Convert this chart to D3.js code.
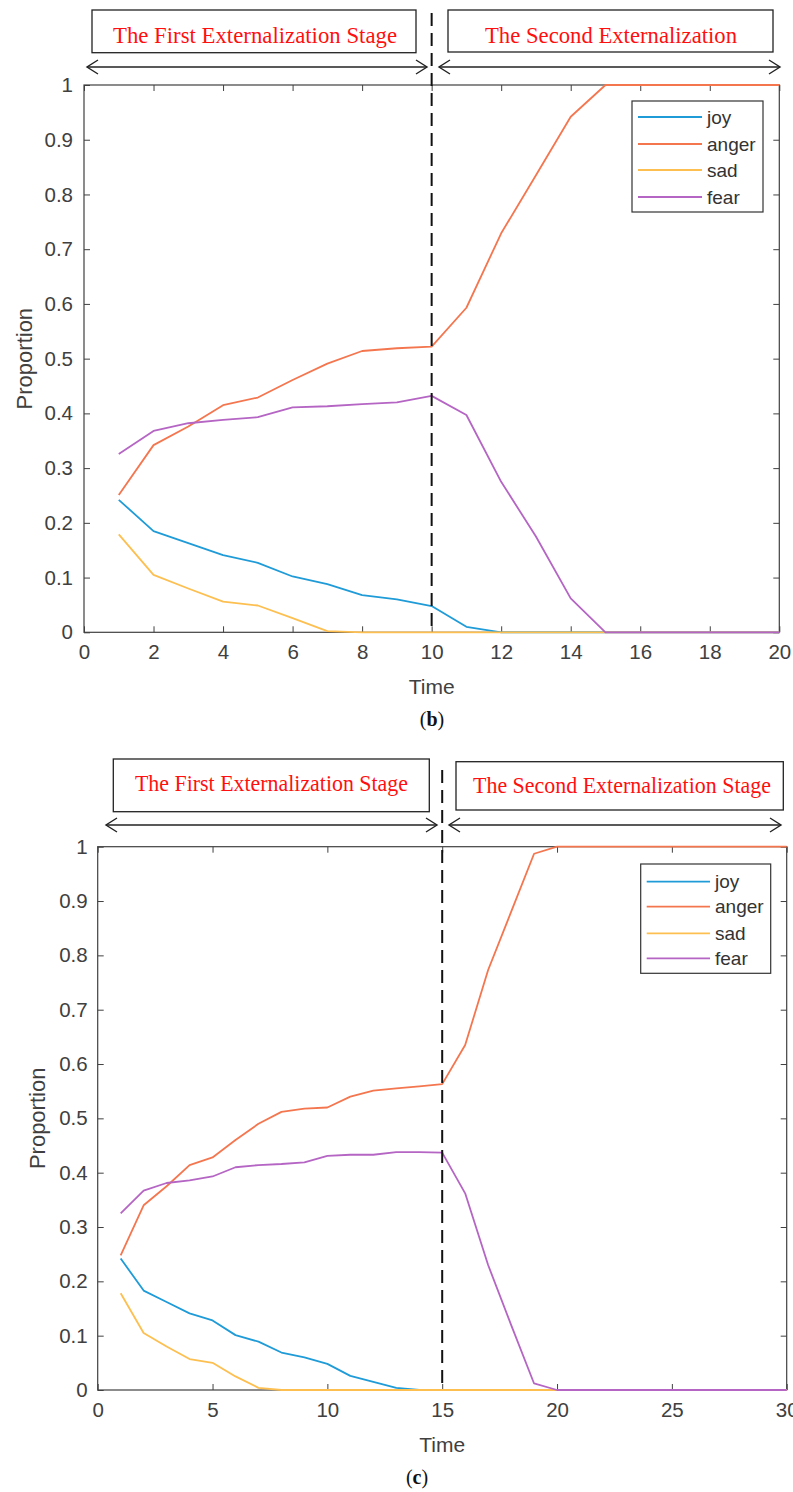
<!DOCTYPE html>
<html>
<head>
<meta charset="utf-8">
<script src="https://cdn.jsdelivr.net/npm/d3@7"></script>
<style>
  body { margin: 0; background: #fff; }
  svg { display: block; }
</style>
</head>
<body>
<svg id="fig" width="793" height="1492"></svg>
<script>
// series names + colours (MATLAB default order)
const emotions = ["joy", "anger", "sad", "fear"];
const colors = ["#1f9bd7", "#f4764f", "#fdbf50", "#b565c4"];

// panel (b)
const timeB = [1, 2, 3, 4, 5, 6, 7, 8, 9, 10, 11, 12, 13, 14, 15, 16, 17, 18, 19, 20];
const joyB = [0.242, 0.185, 0.163, 0.141, 0.127, 0.102, 0.088, 0.068, 0.060, 0.048, 0.010, 0, 0, 0, 0, 0, 0, 0, 0, 0];
const angerB = [0.251, 0.342, 0.376, 0.415, 0.429, 0.461, 0.491, 0.514, 0.519, 0.522, 0.593, 0.729, 0.835, 0.942, 1, 1, 1, 1, 1, 1];
const sadB = [0.179, 0.105, 0.080, 0.056, 0.049, 0.026, 0.002, 0, 0, 0, 0, 0, 0, 0, 0, 0, 0, 0, 0, 0];
const fearB = [0.326, 0.368, 0.382, 0.388, 0.393, 0.411, 0.413, 0.417, 0.420, 0.432, 0.397, 0.275, 0.175, 0.062, 0, 0, 0, 0, 0, 0];
const xTicksB = [0, 2, 4, 6, 8, 10, 12, 14, 16, 18, 20];
const stagesB = ["The First Externalization Stage", "The Second Externalization"];

// panel (c)
const timeC = [1, 2, 3, 4, 5, 6, 7, 8, 9, 10, 11, 12, 13, 14, 15, 16, 17, 18, 19, 20, 21, 22, 23, 24, 25, 26, 27, 28, 29, 30];
const joyC = [0.242, 0.183, 0.162, 0.141, 0.128, 0.101, 0.089, 0.069, 0.060, 0.048, 0.026, 0.015, 0.004, 0, 0, 0, 0, 0, 0, 0, 0, 0, 0, 0, 0, 0, 0, 0, 0, 0];
const angerC = [0.248, 0.340, 0.375, 0.414, 0.428, 0.460, 0.490, 0.512, 0.518, 0.520, 0.540, 0.551, 0.555, 0.559, 0.563, 0.635, 0.773, 0.880, 0.987, 1, 1, 1, 1, 1, 1, 1, 1, 1, 1, 1];
const sadC = [0.178, 0.105, 0.080, 0.057, 0.050, 0.025, 0.004, 0, 0, 0, 0, 0, 0, 0, 0, 0, 0, 0, 0, 0, 0, 0, 0, 0, 0, 0, 0, 0, 0, 0];
const fearC = [0.325, 0.367, 0.381, 0.386, 0.393, 0.410, 0.414, 0.416, 0.419, 0.431, 0.433, 0.433, 0.438, 0.438, 0.437, 0.362, 0.230, 0.120, 0.012, 0, 0, 0, 0, 0, 0, 0, 0, 0, 0, 0];
const xTicksC = [0, 5, 10, 15, 20, 25, 30];
const stagesC = ["The First Externalization Stage", "The Second Externalization Stage"];

const yTicks = [0, 0.1, 0.2, 0.3, 0.4, 0.5, 0.6, 0.7, 0.8, 0.9, 1];

const svg = d3.select("#fig");
const sans = "'Liberation Sans', Arial, sans-serif";
const serif = "'Liberation Serif', 'Times New Roman', serif";
const axisColor = "#404040";

function drawPanel(p) {
  const x = d3.scaleLinear().domain([0, p.xMax]).range([p.left, p.right]);
  const y = d3.scaleLinear().domain([0, 1]).range([p.bottom, p.top]);
  const g = svg.append("g");

  // stage boxes + titles (squeezed serif, like the original figure)
  p.boxes.forEach((b, i) => {
    g.append("rect")
      .attr("x", b[0]).attr("y", b[1])
      .attr("width", b[2] - b[0]).attr("height", b[3] - b[1])
      .attr("fill", "#fff").attr("stroke", "#222").attr("stroke-width", 1.3);
    const t = p.titles[i];
    g.append("text")
      .attr("x", t[0]).attr("y", t[2])
      .attr("textLength", t[1] - t[0])
      .attr("lengthAdjust", "spacingAndGlyphs")
      .attr("font-family", serif).attr("font-size", 23)
      .attr("fill", "#ff1010")
      .text(p.stages[i]);
  });

  // double-headed arrows
  p.arrows.forEach(a => {
    const [x0, x1, yy] = a;
    const ag = g.append("g").attr("fill", "none").attr("stroke", "#222").attr("stroke-width", 1.4);
    ag.append("line").attr("x1", x0).attr("x2", x1).attr("y1", yy).attr("y2", yy);
    ag.append("path").attr("d", `M${x0 + 11},${yy - 7}L${x0},${yy}L${x0 + 11},${yy + 7}`);
    ag.append("path").attr("d", `M${x1 - 11},${yy - 7}L${x1},${yy}L${x1 - 11},${yy + 7}`);
  });

  // axes box with inward ticks on all sides
  const tick = 6;
  const ax = g.append("g").attr("font-family", sans).attr("color", axisColor);

  ax.append("g")
    .attr("transform", `translate(0,${p.bottom})`)
    .call(d3.axisBottom(x).tickValues(p.xTicks).tickSizeInner(-tick).tickSizeOuter(0).tickPadding(p.xPad).tickFormat(d3.format("d")))
    .call(s => s.select(".domain").remove())
    .call(s => s.selectAll("text").attr("font-size", 20.5).attr("fill", axisColor));

  ax.append("g")
    .attr("transform", `translate(0,${p.top})`)
    .call(d3.axisTop(x).tickValues(p.xTicks).tickSizeInner(-tick).tickSizeOuter(0).tickFormat(""))
    .call(s => s.select(".domain").remove());

  ax.append("g")
    .attr("transform", `translate(${p.left},0)`)
    .call(d3.axisLeft(y).tickValues(yTicks).tickSizeInner(-tick).tickSizeOuter(0).tickPadding(p.yPad).tickFormat(d3.format("~g")))
    .call(s => s.select(".domain").remove())
    .call(s => s.selectAll("text").attr("font-size", 20.5).attr("fill", axisColor));

  ax.append("g")
    .attr("transform", `translate(${p.right},0)`)
    .call(d3.axisRight(y).tickValues(yTicks).tickSizeInner(-tick).tickSizeOuter(0).tickFormat(""))
    .call(s => s.select(".domain").remove());

  g.append("rect")
    .attr("x", p.left).attr("y", p.top)
    .attr("width", p.right - p.left).attr("height", p.bottom - p.top)
    .attr("fill", "none").attr("stroke", axisColor).attr("stroke-width", 1.2);

  // data lines, in plotting order so fear sits on top
  const line = d3.line().x(d => x(d[0])).y(d => y(d[1]));
  p.series.forEach((vals, i) => {
    g.append("path")
      .datum(p.time.map((t, j) => [t, vals[j]]))
      .attr("fill", "none")
      .attr("stroke", colors[i])
      .attr("stroke-width", 1.8)
      .attr("stroke-linejoin", "round")
      .attr("d", line);
  });

  // stage divider
  g.append("line")
    .attr("x1", x(p.split)).attr("x2", x(p.split))
    .attr("y1", p.dashTop).attr("y2", p.bottom)
    .attr("stroke", "#111").attr("stroke-width", 2)
    .attr("stroke-dasharray", "13,7");

  // legend
  const L = p.legend;
  const lg = g.append("g").attr("font-family", sans);
  lg.append("rect")
    .attr("x", L.x0).attr("y", L.y0)
    .attr("width", L.x1 - L.x0).attr("height", L.y1 - L.y0)
    .attr("fill", "#fff").attr("stroke", "#333").attr("stroke-width", 1.2);
  emotions.forEach((name, i) => {
    const yy = L.rows[i];
    lg.append("line")
      .attr("x1", L.lx0).attr("x2", L.lx1).attr("y1", yy).attr("y2", yy)
      .attr("stroke", colors[i]).attr("stroke-width", 1.8);
    lg.append("text")
      .attr("x", L.tx).attr("y", yy).attr("dy", "0.35em")
      .attr("font-size", 19).attr("fill", "#333")
      .text(name);
  });

  // axis titles + panel tag
  g.append("text")
    .attr("x", (p.left + p.right) / 2).attr("y", p.timeY)
    .attr("text-anchor", "middle").attr("font-family", sans)
    .attr("font-size", 21).attr("fill", axisColor)
    .text("Time");

  g.append("text")
    .attr("transform", `translate(${p.propX},${(p.top + p.bottom) / 2}) rotate(-90)`)
    .attr("text-anchor", "middle").attr("dy", "0.35em")
    .attr("font-family", sans).attr("font-size", 22).attr("fill", axisColor)
    .text("Proportion");

  const tag = g.append("text")
    .attr("x", p.tagX).attr("y", p.tagY)
    .attr("text-anchor", "middle").attr("font-family", serif)
    .attr("font-size", 20).attr("fill", "#111");
  tag.append("tspan").text("(");
  tag.append("tspan").attr("font-weight", "bold").text(p.tag);
  tag.append("tspan").text(")");
}

drawPanel({
  left: 84, right: 779.3, top: 85, bottom: 632.3,
  xMax: 20, split: 10, xTicks: xTicksB, time: timeB,
  series: [joyB, angerB, sadB, fearB],
  stages: stagesB,
  boxes: [[92, 10, 416, 52.7], [448, 10, 773, 52]],
  titles: [[113, 397, 43], [485, 737, 43]],
  arrows: [[87, 427, 67], [439, 780, 67]],
  dashTop: 13,
  legend: { x0: 632, y0: 101, x1: 763, y1: 212, lx0: 638, lx1: 702, tx: 707, rows: [117, 144, 170, 197] },
  xPad: 12, yPad: 11, timeY: 694, propX: 24, tagX: 432, tagY: 726, tag: "b"
});

drawPanel({
  left: 97.7, right: 786.7, top: 846.7, bottom: 1390,
  xMax: 30, split: 15, xTicks: xTicksC, time: timeC,
  series: [joyC, angerC, sadC, fearC],
  stages: stagesC,
  boxes: [[113.3, 759, 429.3, 811.7], [456, 761.7, 783.3, 810]],
  titles: [[135, 408, 791], [473, 771, 793]],
  arrows: [[106, 437, 825], [449, 781, 825]],
  dashTop: 770,
  legend: { x0: 640.7, y0: 864, x1: 770.7, y1: 973.3, lx0: 646.7, lx1: 710, tx: 715, rows: [881.7, 906.7, 933.3, 958.3] },
  xPad: 12, yPad: 10, timeY: 1452, propX: 37, tagX: 417, tagY: 1484, tag: "c"
});
</script>
</body>
</html>
